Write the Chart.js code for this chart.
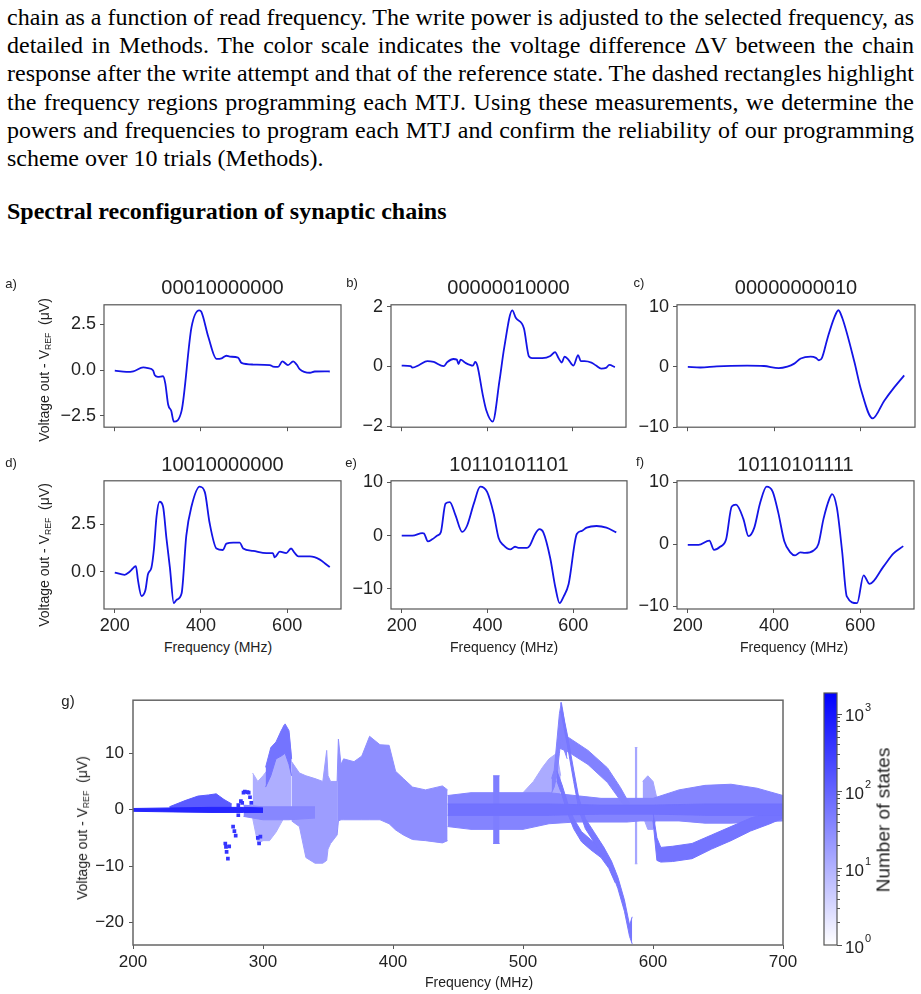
<!DOCTYPE html>
<html>
<head>
<meta charset="utf-8">
<script src="https://cdn.jsdelivr.net/npm/chart.js@4.4.0/dist/chart.umd.min.js"></script>
<style>
  body { margin: 0; background: #fff; width: 921px; height: 994px; position: relative; overflow: hidden; font-family: "Liberation Sans", Arial, sans-serif; color: #222; }
  .para { position: absolute; left: 7px; width: 907px; font-family: "Liberation Serif", "Times New Roman", serif; font-size: 24px; line-height: 28.2px; color: #000; word-spacing: -2px; }
  .para div { text-align: justify; text-align-last: justify; }
  .para div.last { text-align-last: left; word-spacing: 0; }
  .head { position: absolute; left: 7px; top: 197px; font-family: "Liberation Serif", "Times New Roman", serif; font-size: 24px; line-height: 28px; font-weight: bold; color: #000; }
  .lbl { position: absolute; white-space: nowrap; transform: translate(-50%, -50%); line-height: 1; }
  .rot { transform: translate(-50%, -50%) rotate(-90deg); }
  .lbl sub { font-size: 0.62em; vertical-align: -0.25em; }
  canvas { position: absolute; }
</style>
</head>
<body>
<div class="para" style="top:3px">
  <div>chain as a function of read frequency. The write power is adjusted to the selected frequency, as</div>
  <div>detailed in Methods. The color scale indicates the voltage difference ΔV between the chain</div>
  <div>response after the write attempt and that of the reference state. The dashed rectangles highlight</div>
  <div>the frequency regions programming each MTJ. Using these measurements, we determine the</div>
  <div>powers and frequencies to program each MTJ and confirm the reliability of our programming</div>
  <div class="last">scheme over 10 trials (Methods).</div>
</div>
<div class="head">Spectral reconfiguration of synaptic chains</div>

<script>
// ---- data ----
const TITLES = ['00010000000', '00000010000', '00000000010', '10010000000', '10110101101', '10110101111'];
const X_TICKS = [200, 400, 600];

const FREQ_A = [200,227,243,266,277,289,293,300,312,317,324,331,337,355,378,396,401,417,436,448,459,467,486,494,521,560,567,579,589,602,614,622,629,653,664,687,699];
const VOLT_A = [-0.03,-0.1,-0.07,0.14,0.1,-0.03,-0.29,-0.37,-0.34,-0.7,-1.9,-2.23,-2.82,-2.23,2.33,3.26,3.18,1.82,0.61,0.64,0.78,0.73,0.68,0.39,0.3,0.27,0.19,0.17,0.47,0.27,0.47,0.3,0.05,-0.15,-0.08,-0.07,-0.08];
const FREQ_B = [200,221,225,241,260,275,298,307,321,329,333,338,348,367,372,377,390,398,413,429,440,459,467,486,498,505,529,548,559,567,575,581,590,602,613,619,628,644,655,667,678,686,699];
const VOLT_B = [0.03,0.01,-0.04,0.05,0.18,0.15,0.01,0.15,0.25,0.23,0.08,0.23,0.13,0.03,0.15,0.03,-0.97,-1.47,-1.85,-0.47,0.63,1.88,1.63,1.28,0.33,0.28,0.28,0.35,0.48,0.28,0.13,0.33,0.23,0.03,0.38,0.18,0.18,0.13,0.03,-0.07,-0.05,0.05,-0.02];
const FREQ_C = [200,229,267,337,376,410,430,445,461,484,496,503,510,523,538,548,557,585,600,627,654,677,700];
const VOLT_C = [0,-0.1,0.1,0.2,0.15,-0.2,0.05,0.5,1.4,1.7,1.5,1.1,1.5,4.8,8.1,9.4,8.1,0.8,-3.7,-8.55,-5.6,-3.4,-1.4];
const FREQ_D = [200,223,235,249,254,262,271,277,285,291,297,304,312,320,328,337,343,355,366,378,397,409,420,436,451,459,475,490,498,521,552,567,571,583,598,609,618,626,653,676,691,699];
const VOLT_D = [-0.05,-0.17,0,0.29,-0.48,-1.29,-0.99,-0.14,0.2,1.22,2.93,3.69,3.44,1.74,0.2,-1.67,-1.5,-1.16,1.9,3.44,4.49,4.2,2.58,1.22,1.14,1.48,1.53,1.53,1.22,1.09,0.97,0.97,0.75,1.05,0.97,1.22,0.97,0.8,0.8,0.63,0.37,0.24];
const FREQ_E = [200,225,248,252,261,271,283,291,302,312,325,341,352,368,383,399,414,426,437,453,464,472,492,499,511,521,530,546,558,568,577,589,608,620,631,654,677,700];
const VOLT_E = [0,0,0.48,0.4,-1.1,-0.7,0,0.6,6.0,6.3,3.9,0.7,1.8,6.0,9.2,8.2,4.2,-0.5,-1.8,-2.6,-2.1,-2.3,-2.3,-1.8,0.3,1.2,0.6,-4.2,-9.7,-12.7,-11.5,-9.1,0.3,0.9,1.5,1.8,1.5,0.6];
const FREQ_F = [200,225,250,261,275,289,302,312,329,341,354,368,383,397,410,424,438,449,461,472,492,503,515,529,535,546,558,569,593,608,622,654,677,700];
const VOLT_F = [-0.1,-0.1,0.6,-0.9,-0.4,0.8,6.1,6.4,4.1,1.3,2.6,6.7,9.3,8.5,5.1,0.5,-1.3,-1.8,-1.3,-1.4,-1.0,0,4.1,7.4,8.1,5.9,-1.0,-8.4,-9.5,-5.0,-6.4,-3.6,-1.5,-0.3];

const Y_TICKS_A = [-2.5, 0, 2.5];
const Y_TICKS_B = [-2, 0, 2];
const Y_TICKS_C = [-10, 0, 10];
const Y_TICKS_D = [0, 2.5];
const Y_TICKS_E = [-10, 0, 10];
const Y_TICKS_F = [-10, 0, 10];

// panel g: bands of states (frequency, lower edge, upper edge, number of states)
const G_X_TICKS = [200, 300, 400, 500, 600, 700];
const G_Y_TICKS = [-20, -10, 0, 10];
const CB_TICKS = [1, 10, 100, 1000];
const CB_MAX = 1860;

const G_E1_F = [292, 296, 300, 305, 310, 316, 320, 322];
const G_E1_LO = [-1.5, -6, -5.5, -5.5, -4, -1.5, -1, -0.5];
const G_E1_HI = [6.5, 5, 6, 7.5, 11.5, 15, 13.5, 9];
const G_E1_N = 11;
const G_E2_F = [322, 328, 333, 340, 346, 349, 350, 352, 357];
const G_E2_LO = [-2, -3, -8.5, -9.5, -9.5, -9, -7, -6, -4.5];
const G_E2_HI = [8.5, 6.5, 6, 5.5, 5, 10.5, 6, 5, 5];
const G_E2_N = 18;
const G_E3_F = [357, 358, 360, 362, 370, 376, 382, 390, 397, 402, 408, 415, 425, 438, 442];
const G_E3_LO = [-4.5, -2, -1.8, -1.8, -1.8, -1.8, -1.8, -1.8, -2.5, -3.6, -4.5, -5.3, -5.5, -5.9, -5.5];
const G_E3_HI = [5, 12.5, 8, 9, 8.5, 9.5, 13, 11.5, 11.4, 6.8, 5.5, 4, 3.5, 4.2, 3.5];
const G_E3_N = 28;
const G_CH_F = [302, 306, 310, 314, 317, 320, 322];
const G_CH_LO = [4, 6, 9, 9.5, 10, 8, 6];
const G_CH_HI = [7.5, 11, 12, 14, 15.2, 14, 9];
const G_CH_N = 60;
const G_BASE_F = [200, 230, 260, 285, 300];
const G_BASE_LO = [-0.3, -0.4, -0.5, -0.5, -0.5];
const G_BASE_HI = [0.2, 0.3, 0.4, 0.4, 0.3];
const G_BASE_N = 600;
const G_BUMP_F = [228, 240, 250, 258, 264, 270, 276];
const G_BUMP_LO = [0, 0, -0.2, -0.3, -0.3, -0.2, 0];
const G_BUMP_HI = [0.5, 1.6, 2.4, 2.6, 2.8, 1.8, 1.0];
const G_BUMP_N = 130;
const G_LOW_F = [285, 300, 320, 340];
const G_LOW_LO = [-1.2, -1.8, -1.8, -1.5];
const G_LOW_HI = [0.8, 0.5, 0.5, 0.5];
const G_LOW_N = 35;
const G_MID_F = [442, 460, 480, 500, 520, 540, 560, 580, 590, 600, 620, 640, 660, 680, 700];
const G_MID_LO = [-3, -3.5, -3.5, -3.5, -2.5, -2.2, -2.2, -2.2, -2, -2, -2, -2.4, -2.4, -2.2, -2];
const G_MID_HI = [2.5, 3, 3, 3, 3, 2.5, 2, 2, 2, 2, 3.5, 4.3, 4.5, 3.8, 2.5];
const G_MID_N = 38;
const G_CORE_F = [442, 480, 520, 560, 600, 640, 700];
const G_CORE_LO = [-1, -1, -1, -0.8, -0.8, -1, -1];
const G_CORE_HI = [1, 1, 1, 0.8, 0.8, 1, 1];
const G_CORE_N = 65;
const G_STRIP_F = [477, 482];
const G_STRIP_LO = [-6, -6];
const G_STRIP_HI = [6, 6];
const G_STRIP_N = 45;
const G_PRE_F = [500, 508, 515, 520, 526, 529];
const G_PRE_LO = [0, 0, 0, 0, 0, 0];
const G_PRE_HI = [3, 5, 7.5, 9, 10, 6];
const G_PRE_N = 12;
const G_PEAK_F = [522, 524, 526, 528, 529.5, 531, 534];
const G_PEAK_LO = [3, 4, 6, 10, 13, 11, 9];
const G_PEAK_HI = [5.5, 7, 12, 17, 19, 17, 12];
const G_PEAK_N = 40;
const G_UP_F = [527, 535, 550, 565, 575, 582];
const G_UP_LO = [11, 10.2, 8, 4.8, 1.6, -0.5];
const G_UP_HI = [14, 12.8, 10.5, 7.4, 3.9, 1];
const G_UP_N = 40;
const G_B1_F = [529, 534, 539, 543, 548, 555, 562, 568, 573, 578, 582, 584];
const G_B1_LO = [17.5, 11.6, 5, 0, -3.4, -5.9, -8.4, -10.9, -14, -18, -22.5, -23.8];
const G_B1_HI = [19, 13.4, 7, 2, -1.6, -4.1, -6.6, -9.1, -12, -16, -20.5, -19];
const G_B1_N = 55;
const G_B2_F = [526, 530, 534, 539, 545, 552, 560, 566, 571];
const G_B2_LO = [5.1, 2.6, -0.4, -3.4, -5.7, -7.1, -8.5, -10.4, -13];
const G_B2_HI = [6.9, 4.4, 1.4, -1.6, -3.9, -5.3, -6.7, -8.6, -11];
const G_B2_N = 55;
const G_SP_F = [586, 588];
const G_SP_LO = [-9.6, -9.6];
const G_SP_HI = [11, 11];
const G_SP_N = 14;
const G_BLOB_F = [592, 596, 600, 603];
const G_BLOB_LO = [-1, -3.5, -3.5, -1];
const G_BLOB_HI = [5, 6, 5, 2];
const G_BLOB_N = 15;
const G_TAIL_F = [600, 603, 606, 615, 630, 645, 660, 675, 690, 700];
const G_TAIL_LO = [-2, -9, -9.3, -9.2, -8.7, -7, -5.5, -3.8, -2.5, -1.5];
const G_TAIL_HI = [-0.5, -5, -6.7, -6.5, -6, -4.5, -3, -1.5, -0.5, 0.3];
const G_TAIL_N = 60;
const G_DOT_F = [271, 271.5, 272, 273, 274, 277, 278, 279, 281, 281, 281, 283, 284, 285, 286, 288, 289, 290, 291, 296, 297, 298];
const G_DOT_V = [-6, -6.6, -7.5, -8.7, -6.5, -3, -3.8, -4.6, 0.8, -0.2, -1, 1.5, 1.2, 3, 3.2, 3.1, 3, 2.2, 1.2, -5, -6, -4.8];
const G_DOT_N = 400;

// ---- style ----
const FONT = '"Liberation Sans", Arial, sans-serif';
const LINE_BLUE = '#1414e6';
const AX = '#555';
Chart.defaults.font.family = FONT;
Chart.defaults.color = '#222';

const framePlugin = {
  id: 'frame',
  afterDraw(chart, args, opts) {
    const { ctx, chartArea: a } = chart;
    ctx.save();
    ctx.strokeStyle = opts.color || AX;
    ctx.lineWidth = opts.width || 1.2;
    ctx.strokeRect(a.left, a.top, a.right - a.left, a.bottom - a.top);
    ctx.restore();
  }
};

function fmt(v, dec) {
  return v.toFixed(dec).replace('-', '\u2212');
}

function addText(html, x, y, size, cls, extra) {
  const d = document.createElement('div');
  d.className = 'lbl' + (cls ? ' ' + cls : '');
  d.style.left = x + 'px';
  d.style.top = y + 'px';
  d.style.fontSize = size + 'px';
  if (extra) d.style.cssText += extra;
  d.innerHTML = html;
  document.body.appendChild(d);
}

function addCanvas(left, top, w, h) {
  const cv = document.createElement('canvas');
  cv.width = w; cv.height = h;
  cv.style.left = left + 'px';
  cv.style.top = top + 'px';
  document.body.appendChild(cv);
  return cv;
}

function margins(vals) {
  const lo = Math.min(...vals), hi = Math.max(...vals), r = hi - lo;
  return [lo - 0.05 * r, hi + 0.05 * r];
}

// box = [left, right, top, bottom] of the plot area in page pixels
function makePanel(box, freq, volt, yTicks, yRange, dec, showX) {
  const yw = 50, padTop = 12, padRight = 10, xh = showX ? 30 : 8;
  const w = yw + (box[1] - box[0]) + padRight;
  const h = padTop + (box[3] - box[2]) + xh;
  const cv = addCanvas(box[0] - yw, box[2] - padTop, w, h);
  new Chart(cv, {
    type: 'line',
    data: {
      datasets: [{
        data: freq.map((f, i) => ({ x: f, y: volt[i] })),
        borderColor: LINE_BLUE,
        borderWidth: 1.8,
        pointRadius: 0,
        cubicInterpolationMode: 'monotone',
        fill: false
      }]
    },
    options: {
      responsive: false,
      animation: false,
      devicePixelRatio: 1,
      layout: { autoPadding: false, padding: { top: padTop, right: padRight, left: 0, bottom: 0 } },
      plugins: { legend: { display: false }, tooltip: { enabled: false } },
      scales: {
        x: {
          type: 'linear', min: 175, max: 725,
          afterBuildTicks: s => { s.ticks = X_TICKS.map(v => ({ value: v })); },
          afterFit: s => { s.height = xh; },
          border: { display: false },
          grid: { drawOnChartArea: false, drawTicks: true, tickLength: 4, color: AX },
          ticks: { display: showX, autoSkip: false, maxRotation: 0, padding: 2, font: { size: 18 }, color: '#222' }
        },
        y: {
          min: yRange[0], max: yRange[1],
          afterBuildTicks: s => { s.ticks = yTicks.map(v => ({ value: v })); },
          afterFit: s => { s.width = yw; },
          border: { display: false },
          grid: { drawOnChartArea: false, drawTicks: true, tickLength: 4, color: AX },
          ticks: { padding: 4, font: { size: 18 }, color: '#222', callback: v => fmt(v, dec) }
        }
      }
    },
    plugins: [framePlugin]
  });
}

const BOX = [
  [104, 341, 302, 434], [391, 626, 302, 434], [677, 915, 302, 434],
  [104, 341, 478, 609], [391, 627, 478, 609], [677, 914, 478, 609]
];
makePanel(BOX[0], FREQ_A, VOLT_A, Y_TICKS_A, margins(VOLT_A), 1, false);
makePanel(BOX[1], FREQ_B, VOLT_B, Y_TICKS_B, margins(VOLT_B), 0, false);
makePanel(BOX[2], FREQ_C, VOLT_C, Y_TICKS_C, [-10, 10.3], 0, false);
makePanel(BOX[3], FREQ_D, VOLT_D, Y_TICKS_D, margins(VOLT_D), 1, true);
makePanel(BOX[4], FREQ_E, VOLT_E, Y_TICKS_E, margins(VOLT_E), 0, true);
makePanel(BOX[5], FREQ_F, VOLT_F, Y_TICKS_F, margins(VOLT_F), 0, true);

BOX.forEach((b, i) => addText(TITLES[i], (b[0] + b[1]) / 2, i < 3 ? 287 : 464, 20));
[['a)', 11, 283], ['b)', 352, 282], ['c)', 639, 282], ['d)', 11, 462], ['e)', 351, 462], ['f)', 640, 461]]
  .forEach(([t, x, y]) => addText(t, x, y, 13));
const YLABEL = 'Voltage out - V<sub>REF</sub>&nbsp;&nbsp;(\u03bcV)';
addText(YLABEL, 45, 370, 14, 'rot');
addText(YLABEL, 45, 555, 14, 'rot');
addText('Frequency (MHz)', 218, 647, 14);
addText('Frequency (MHz)', 504, 647, 14);
addText('Frequency (MHz)', 794, 647, 14);

// ---- panel g ----
function densityColor(n) {
  const t = Math.log10(n) / Math.log10(CB_MAX);
  const c = Math.round(255 * (1 - t));
  return `rgb(${c},${c},255)`;
}

const BANDS = [
  [G_E1_F, G_E1_LO, G_E1_HI, G_E1_N],
  [G_E2_F, G_E2_LO, G_E2_HI, G_E2_N],
  [G_E3_F, G_E3_LO, G_E3_HI, G_E3_N],
  [G_PRE_F, G_PRE_LO, G_PRE_HI, G_PRE_N],
  [G_SP_F, G_SP_LO, G_SP_HI, G_SP_N],
  [G_BLOB_F, G_BLOB_LO, G_BLOB_HI, G_BLOB_N],
  [G_LOW_F, G_LOW_LO, G_LOW_HI, G_LOW_N],
  [G_MID_F, G_MID_LO, G_MID_HI, G_MID_N],
  [G_STRIP_F, G_STRIP_LO, G_STRIP_HI, G_STRIP_N],
  [G_PEAK_F, G_PEAK_LO, G_PEAK_HI, G_PEAK_N],
  [G_UP_F, G_UP_LO, G_UP_HI, G_UP_N],
  [G_B1_F, G_B1_LO, G_B1_HI, G_B1_N],
  [G_B2_F, G_B2_LO, G_B2_HI, G_B2_N],
  [G_TAIL_F, G_TAIL_LO, G_TAIL_HI, G_TAIL_N],
  [G_CH_F, G_CH_LO, G_CH_HI, G_CH_N],
  [G_CORE_F, G_CORE_LO, G_CORE_HI, G_CORE_N],
  [G_BUMP_F, G_BUMP_LO, G_BUMP_HI, G_BUMP_N],
  [G_BASE_F, G_BASE_LO, G_BASE_HI, G_BASE_N]
];

const gSets = [];
BANDS.forEach(([f, lo, hi, n]) => {
  const col = densityColor(n);
  gSets.push({ data: f.map((x, i) => ({ x, y: hi[i] })), fill: '+1', backgroundColor: col, borderColor: col, borderWidth: 1, pointRadius: 0, order: -n });
  gSets.push({ data: f.map((x, i) => ({ x, y: lo[i] })), fill: false, borderColor: col, borderWidth: 1, pointRadius: 0, order: -n });
});
gSets.push({
  data: G_DOT_F.map((x, i) => ({ x, y: G_DOT_V[i] })),
  showLine: false, pointStyle: 'rect', pointRadius: 2.6, borderWidth: 0,
  backgroundColor: densityColor(G_DOT_N), order: -G_DOT_N
});

const gCv = addCanvas(90, 685, 715, 290);
new Chart(gCv, {
  type: 'line',
  data: { datasets: gSets },
  options: {
    responsive: false,
    animation: false,
    devicePixelRatio: 1,
    layout: { autoPadding: false, padding: { top: 8, right: 22, left: 0, bottom: 0 } },
    plugins: { legend: { display: false }, tooltip: { enabled: false }, frame: { color: '#666', width: 1.5 } },
    scales: {
      x: {
        type: 'linear', min: 200, max: 700,
        afterBuildTicks: s => { s.ticks = G_X_TICKS.map(v => ({ value: v })); },
        afterFit: s => { s.height = 30; },
        border: { display: false },
        grid: { drawOnChartArea: false, drawTicks: true, tickLength: 4, color: AX },
        ticks: { autoSkip: false, maxRotation: 0, padding: 3, font: { size: 17 }, color: '#222' }
      },
      y: {
        min: -24, max: 19.4,
        afterBuildTicks: s => { s.ticks = G_Y_TICKS.map(v => ({ value: v })); },
        afterFit: s => { s.width = 43; },
        border: { display: false },
        grid: { drawOnChartArea: false, drawTicks: true, tickLength: 4, color: AX },
        ticks: { padding: 5, font: { size: 17 }, color: '#222', callback: v => fmt(v, 0) }
      }
    }
  },
  plugins: [framePlugin]
});

// ---- colour bar ----
const colorbarPlugin = {
  id: 'colorbar',
  afterDraw(chart) {
    const { ctx, chartArea: a, scales: { y } } = chart;
    ctx.save();
    ctx.strokeStyle = AX;
    ctx.lineWidth = 1.2;
    ctx.strokeRect(a.left, a.top, a.right - a.left, a.bottom - a.top);
    ctx.lineWidth = 1;
    for (let k = 0; k < 4; k++) {
      for (let m = 1; m < 10; m++) {
        const v = m * Math.pow(10, k);
        if (v > CB_MAX) break;
        const py = Math.round(y.getPixelForValue(v)) + 0.5;
        ctx.beginPath();
        ctx.moveTo(a.right, py);
        ctx.lineTo(a.right + (m === 1 ? 5 : 3), py);
        ctx.stroke();
      }
    }
    ctx.fillStyle = '#222';
    ctx.textBaseline = 'middle';
    CB_TICKS.forEach(v => {
      const py = y.getPixelForValue(v);
      ctx.font = '17px ' + FONT;
      ctx.fillText('10', a.right + 8, py + 3);
      const w = ctx.measureText('10').width;
      ctx.font = '11px ' + FONT;
      ctx.fillText(String(Math.round(Math.log10(v))), a.right + 9 + w, py - 6);
    });
    ctx.restore();
  }
};

const cbCv = addCanvas(800, 685, 100, 275);
new Chart(cbCv, {
  type: 'bar',
  data: {
    labels: ['states'],
    datasets: [{
      data: [[1, CB_MAX]],
      barPercentage: 1,
      categoryPercentage: 1,
      borderWidth: 0,
      backgroundColor: c => {
        const ca = c.chart.chartArea;
        if (!ca) return '#8080ff';
        const g = c.chart.ctx.createLinearGradient(0, ca.bottom, 0, ca.top);
        g.addColorStop(0, densityColor(1));
        g.addColorStop(1, densityColor(CB_MAX));
        return g;
      }
    }]
  },
  options: {
    responsive: false,
    animation: false,
    devicePixelRatio: 1,
    layout: { autoPadding: false, padding: { top: 8, right: 63, left: 24, bottom: 15 } },
    plugins: { legend: { display: false }, tooltip: { enabled: false } },
    scales: {
      x: { display: false },
      y: { type: 'logarithmic', display: false, min: 1, max: CB_MAX }
    }
  },
  plugins: [colorbarPlugin]
});

addText('g)', 68, 700, 15);
addText(YLABEL, 83, 828, 14, 'rot');
addText('Frequency (MHz)', 479, 982, 14);
addText('Number of states', 883, 820, 19, 'rot');
</script>
</body>
</html>
